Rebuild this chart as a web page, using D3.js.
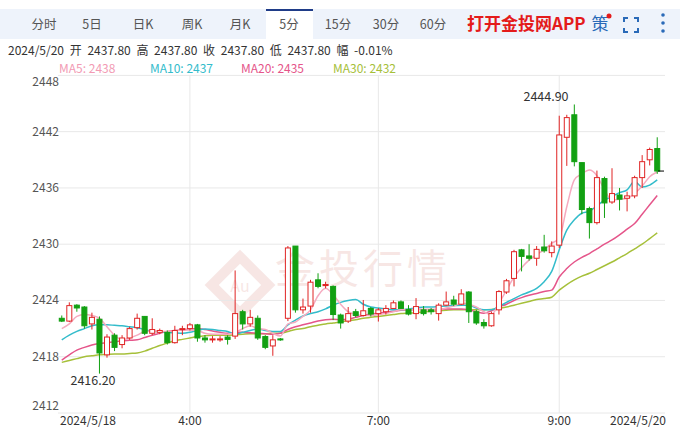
<!DOCTYPE html>
<html><head><meta charset="utf-8">
<script src="https://cdn.jsdelivr.net/npm/d3@7"></script>
<style>body{margin:0;background:#fff;font-family:"Noto Sans CJK SC","Noto Sans",sans-serif}</style>
</head><body><svg id="c" width="680" height="427"></svg>
<script>
const opens  =[2422.1,2421.8,2423.5,2423.3,2421.5,2422.0,2418.2,2420.3,2419.3,2420.0,2421.1,2422.3,2420.5,2420.6,2420.6,2419.5,2420.9,2421.0,2421.4,2420.0,2419.8,2419.8,2420.1,2420.2,2422.8,2421.5,2422.1,2420.15,2419.15,2419.9,2422.1,2429.8,2423.0,2423.4,2426.2,2425.6,2425.5,2422.45,2421.8,2422.8,2422.4,2423.15,2422.6,2422.8,2423.15,2423.85,2423.05,2422.6,2423.0,2423.0,2422.6,2423.5,2424.05,2423.6,2424.9,2422.8,2421.65,2421.3,2423.0,2424.9,2426.35,2429.4,2428.75,2428.5,2429.7,2429.1,2429.9,2441.4,2443.8,2438.7,2433.8,2432.3,2437.0,2434.5,2435.25,2434.9,2435.15,2437.1,2439.0,2440.2];
const closes =[2421.8,2423.45,2423.2,2421.3,2422.2,2418.4,2420.1,2419.0,2420.0,2421.0,2422.1,2420.5,2420.9,2420.8,2419.5,2420.8,2421.0,2421.4,2420.0,2419.8,2419.9,2419.9,2419.85,2422.6,2421.5,2422.2,2420.0,2419.0,2419.8,2419.8,2429.6,2423.0,2423.3,2425.95,2425.5,2425.7,2422.5,2421.6,2422.6,2422.4,2422.9,2422.55,2423.0,2423.15,2423.75,2423.15,2422.55,2423.35,2422.6,2422.8,2423.5,2423.85,2423.6,2424.7,2422.8,2421.6,2421.3,2422.6,2424.95,2426.1,2429.2,2428.7,2428.5,2429.45,2429.3,2429.8,2441.65,2443.5,2438.8,2433.7,2432.3,2437.1,2434.4,2435.4,2434.8,2435.15,2437.1,2438.8,2440.1,2437.8];
const highs  =[2422.4,2423.8,2423.6,2423.4,2422.7,2422.3,2420.4,2420.5,2420.3,2421.2,2422.6,2422.3,2422.1,2421.0,2420.8,2421.3,2421.3,2421.6,2421.5,2420.3,2420.2,2420.2,2420.3,2427.2,2423.0,2423.0,2422.4,2420.3,2420.3,2420.0,2429.8,2429.8,2424.2,2426.2,2426.9,2426.0,2425.6,2422.6,2423.3,2423.1,2424.05,2423.3,2423.2,2423.5,2424.0,2424.0,2423.5,2424.25,2423.4,2423.2,2423.7,2424.95,2424.5,2425.2,2425.0,2423.0,2422.0,2422.8,2425.1,2426.3,2429.4,2429.5,2430.0,2429.8,2431.0,2430.3,2443.7,2443.8,2444.9,2438.7,2434.0,2437.85,2437.2,2438.1,2436.0,2435.6,2437.3,2439.5,2440.3,2441.4];
const lows   =[2421.7,2421.7,2422.8,2421.0,2420.9,2416.2,2417.9,2418.6,2418.9,2419.8,2420.9,2420.3,2420.3,2420.4,2419.3,2419.4,2420.3,2420.8,2419.6,2419.5,2419.5,2419.6,2419.3,2419.9,2420.9,2421.2,2419.8,2418.8,2418.1,2419.7,2421.8,2422.7,2422.6,2422.7,2425.3,2425.3,2421.9,2421.0,2421.6,2422.2,2422.3,2422.3,2421.75,2422.5,2423.1,2423.1,2422.4,2422.0,2422.4,2422.5,2421.85,2423.4,2423.4,2423.5,2421.6,2421.4,2421.0,2421.2,2422.5,2424.7,2425.5,2427.1,2428.25,2427.7,2429.1,2428.6,2429.6,2438.35,2438.3,2433.2,2430.6,2432.1,2432.8,2434.3,2433.6,2433.5,2434.9,2436.0,2438.4,2437.5];
const ma5  =[2421.0,2421.5,2422.3,2422.5,2422.4,2422.1,2421.2,2420.3,2419.8,2420.0,2420.3,2420.7,2420.75,2420.7,2420.7,2420.75,2420.85,2420.85,2420.8,2420.5,2420.4,2420.4,2420.4,2420.6,2421.0,2421.3,2421.0,2420.9,2420.5,2420.2,2421.5,2421.7,2422.3,2423.0,2424.5,2425.3,2424.6,2423.6,2422.8,2422.5,2422.4,2422.4,2422.5,2422.6,2422.8,2423.0,2423.0,2423.1,2423.0,2423.0,2423.0,2423.2,2423.4,2423.7,2423.6,2423.3,2422.8,2422.5,2423.7,2425.1,2426.5,2427.5,2428.3,2428.9,2429.4,2430.1,2430.6,2434.0,2436.85,2437.5,2437.9,2437.3,2435.8,2434.7,2434.8,2434.9,2435.4,2436.2,2437.2,2437.7];
const ma10 =[2419.8,2420.3,2420.7,2421.0,2421.3,2421.4,2421.4,2421.35,2421.3,2421.2,2421.1,2420.9,2420.7,2420.7,2420.6,2420.55,2420.5,2420.6,2420.8,2420.95,2420.9,2420.8,2420.7,2420.4,2420.6,2420.8,2420.95,2420.8,2420.7,2420.7,2421.4,2421.9,2422.35,2422.6,2422.8,2423.1,2423.5,2423.8,2424.0,2424.1,2423.6,2423.3,2423.2,2423.1,2423.0,2423.0,2423.1,2423.2,2423.3,2423.3,2423.35,2423.4,2423.45,2423.5,2423.5,2423.2,2423.0,2423.0,2423.35,2423.8,2424.2,2424.6,2424.9,2425.3,2426.0,2427.1,2429.4,2431.5,2432.6,2433.3,2433.5,2434.1,2434.7,2435.1,2435.5,2435.8,2436.7,2436.1,2436.3,2436.85];
const ma20 =[2417.65,2418.2,2418.7,2419.0,2419.25,2419.4,2419.5,2419.6,2419.7,2419.75,2419.8,2420.05,2420.3,2420.5,2420.7,2420.8,2420.85,2420.95,2421.0,2420.9,2420.75,2420.6,2420.5,2420.6,2420.6,2420.55,2420.5,2420.45,2420.4,2420.5,2420.9,2421.2,2421.4,2421.6,2421.8,2421.95,2422.0,2421.95,2422.0,2422.2,2422.4,2422.55,2422.65,2422.75,2422.85,2422.95,2423.0,2423.05,2423.05,2423.05,2423.05,2423.1,2423.1,2423.1,2423.0,2422.8,2422.65,2422.9,2423.3,2423.6,2424.0,2424.3,2424.55,2424.75,2424.95,2425.1,2426.5,2427.4,2428.1,2428.6,2429.0,2429.5,2430.0,2430.45,2431.0,2431.6,2432.2,2433.2,2434.2,2435.2];
const ma30 =[2417.4,2417.6,2417.8,2418.0,2418.1,2418.2,2418.25,2418.3,2418.3,2418.35,2418.4,2418.6,2418.9,2419.2,2419.45,2419.7,2419.85,2420.0,2420.15,2420.25,2420.3,2420.3,2420.3,2420.35,2420.4,2420.45,2420.45,2420.45,2420.5,2420.5,2420.7,2420.9,2421.0,2421.2,2421.35,2421.5,2421.6,2421.7,2421.85,2421.95,2422.1,2422.2,2422.3,2422.4,2422.5,2422.6,2422.65,2422.7,2422.8,2422.85,2422.9,2422.95,2423.0,2423.0,2423.0,2423.0,2423.0,2423.05,2423.15,2423.3,2423.5,2423.7,2423.9,2424.1,2424.2,2424.35,2425.1,2425.7,2426.2,2426.6,2426.9,2427.3,2427.7,2428.1,2428.55,2429.0,2429.5,2430.0,2430.6,2431.2];
const yTicks=[2448,2442,2436,2430,2424,2418,2412];
const xLabels=[{i:17,t:"4:00"},{i:42,t:"7:00"},{i:66,t:"9:00"}];
const tabs=["分时","5日","日K","周K","月K","5分","15分","30分","60分"];

const svg=d3.select("#c");
const idx=d3.range(closes.length);
const x=d3.scaleBand().domain(idx).range([58,661]);
const cx=i=>x(i)+x.bandwidth()/2;
const y=d3.scaleLinear().domain([2412,2448]).range([413,75.4]);

svg.append("rect").attr("x",0).attr("y",9).attr("width",680).attr("height",30).attr("fill","#eef3fb");
const tabX=[44,92,143,192,240,289,338,386,433];
svg.append("rect").attr("x",266).attr("y",9).attr("width",47).attr("height",30).attr("fill","#fff");
svg.append("rect").attr("x",266).attr("y",9).attr("width",47).attr("height",2).attr("fill","#1f3c88");
svg.selectAll(".tab").data(tabs).join("text").attr("x",(d,i)=>tabX[i]).attr("y",29).attr("text-anchor","middle")
 .attr("font-size",12.5).attr("fill","#555").text(d=>d);
svg.append("text").attr("x",467).attr("y",30).attr("font-size",17).attr("font-weight","bold").attr("fill","#e41b1b").text("打开金投网APP");
svg.append("text").attr("x",600).attr("y",30).attr("font-size",17).attr("fill","#2a6ab8").attr("text-anchor","middle").text("策");
svg.append("circle").attr("cx",609).attr("cy",16).attr("r",2.5).attr("fill","#e41b1b");
const fs=svg.append("g").attr("stroke","#2a6ab8").attr("stroke-width",2).attr("fill","none");
[[624,18,1,1],[638,18,-1,1],[624,32,1,-1],[638,32,-1,-1]].forEach(([a,b,sx,sy])=>fs.append("path").attr("d",`M${a},${b+4*sy}V${b}H${a+4*sx}`));
[15,23,31].forEach(v=>svg.append("circle").attr("cx",663).attr("cy",v).attr("r",1.8).attr("fill","#2a6ab8"));

svg.append("text").attr("x",8).attr("y",55).attr("font-size",12).attr("word-spacing",3).attr("fill","#333")
 .text("2024/5/20 开 2437.80 高 2437.80 收 2437.80 低 2437.80 幅 -0.01%");
const leg=[["MA5: 2438","#f29bb4",59],["MA10: 2437","#33bccb",150],["MA20: 2435","#e5558a",241],["MA30: 2432","#a6c03a",333]];
leg.forEach(([t,c,lx])=>svg.append("text").attr("x",lx).attr("y",73).attr("font-size",12).attr("fill",c).text(t));

const wm=svg.append("g").attr("opacity",0.12);
wm.append("rect").attr("x",-20).attr("y",-20).attr("width",40).attr("height",40).attr("fill","none").attr("stroke","#c0392b").attr("stroke-width",10)
 .attr("transform","translate(240,285) rotate(45)");
wm.append("text").attr("x",240).attr("y",292).attr("text-anchor","middle").attr("font-size",16).attr("fill","#c0392b").text("Au");
wm.append("text").attr("x",275).attr("y",283).attr("font-size",40).attr("fill","#c0392b").attr("letter-spacing",4).text("金投行情");

svg.append("g").selectAll("line").data(yTicks).join("line").attr("x1",58).attr("x2",665)
 .attr("y1",d=>y(d)).attr("y2",d=>y(d)).attr("stroke","#e8e8e8");
svg.append("g").selectAll("line").data(xLabels).join("line").attr("x1",d=>cx(d.i)).attr("x2",d=>cx(d.i))
 .attr("y1",y(2448)).attr("y2",y(2412)).attr("stroke","#e8e8e8");
svg.append("g").selectAll("text").data(yTicks).join("text").attr("x",59).attr("text-anchor","end")
 .attr("y",d=>d===2448?86:d===2412?410:y(d)+4).attr("font-size",12).attr("fill","#555").text(d=>d);
svg.append("g").selectAll("text").data(xLabels).join("text").attr("x",d=>cx(d.i)).attr("y",425).attr("text-anchor","middle")
 .attr("font-size",12).attr("fill","#333").text(d=>d.t);
svg.append("text").attr("x",60).attr("y",425).attr("font-size",12).attr("fill","#333").text("2024/5/18");
svg.append("text").attr("x",666).attr("y",425).attr("text-anchor","end").attr("font-size",12).attr("fill","#333").text("2024/5/20");

const line=d3.line().x((d,i)=>cx(i)).y(d=>y(d)).curve(d3.curveMonotoneX);
[[ma30,"#a6c03a"],[ma20,"#e5558a"],[ma10,"#33bccb"],[ma5,"#f5aabf"]].forEach(([a,c])=>
 svg.append("path").attr("d",line(a)).attr("fill","none").attr("stroke",c).attr("stroke-width",1.5));

const up="#e02424",dn="#12a012";
const g=svg.append("g").selectAll("g").data(idx).join("g");
g.append("line").attr("x1",cx).attr("x2",cx).attr("y1",i=>y(highs[i])).attr("y2",i=>y(lows[i]))
 .attr("stroke",i=>closes[i]>=opens[i]?up:dn);
g.append("rect").attr("x",i=>cx(i)-2.5).attr("width",5)
 .attr("y",i=>y(Math.max(opens[i],closes[i]))).attr("height",i=>Math.max(1,Math.abs(y(opens[i])-y(closes[i]))))
 .attr("fill",i=>closes[i]>=opens[i]?"#fff":dn).attr("stroke",i=>closes[i]>=opens[i]?up:dn);

svg.append("text").attr("x",546).attr("y",101).attr("text-anchor","middle").attr("font-size",12.5).attr("fill","#333").text("2444.90");
svg.append("text").attr("x",93).attr("y",385).attr("text-anchor","middle").attr("font-size",12.5).attr("fill","#333").text("2416.20");
svg.append("line").attr("x1",658).attr("x2",664).attr("y1",y(2437.8)).attr("y2",y(2437.8)).attr("stroke","#000");
</script></body></html>
